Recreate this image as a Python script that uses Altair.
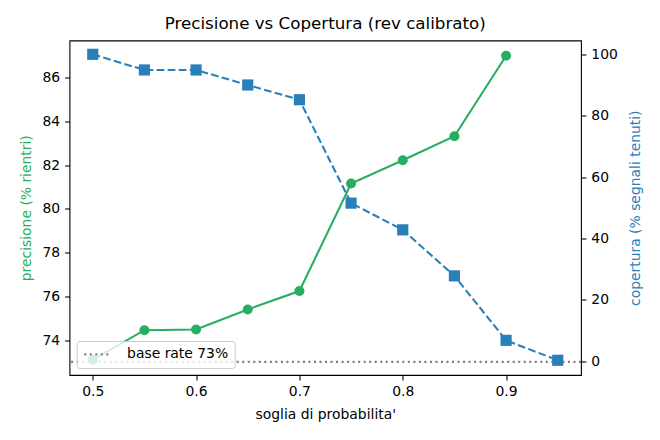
import altair as alt
import pandas as pd

# ---- data ----
soglie_prec = [0.5, 0.55, 0.6, 0.65, 0.7, 0.75, 0.8, 0.85, 0.9]
precisione = [73.1, 74.45, 74.48, 75.4, 76.24, 81.16, 82.22, 83.32, 87.0]
soglie_cop = [0.5, 0.55, 0.6, 0.65, 0.7, 0.75, 0.8, 0.85, 0.9, 0.95]
copertura = [100.0, 94.9, 94.9, 90.0, 85.2, 51.5, 42.8, 27.8, 6.8, 0.3]
base_rate = [73.0]
base_label = ["base rate 73%"]
x_ticks = [0.5, 0.6, 0.7, 0.8, 0.9]
prec_ticks = [74, 76, 78, 80, 82, 84, 86]
cop_ticks = [0, 20, 40, 60, 80, 100]

GREEN = "#27ae60"
BLUE = "#2980b9"
FONT = "DejaVu Sans"

df_p = pd.DataFrame({"soglia": soglie_prec, "val": precisione})
df_c = pd.DataFrame({"soglia": soglie_cop, "cop": copertura})
df_b = pd.DataFrame({"val": base_rate, "label": base_label})

x_enc = alt.X(
    "soglia:Q",
    scale=alt.Scale(domain=[0.4775, 0.9725], nice=False, zero=False),
    axis=alt.Axis(values=x_ticks, format=".1f", title="soglia di probabilita'",
                  titlePadding=8.5, labelFlush=False),
)

y_left = alt.Y(
    "val:Q",
    scale=alt.Scale(domain=[72.4, 87.7], nice=False, zero=False),
    axis=alt.Axis(values=prec_ticks, format="d", title="precisione (% rientri)",
                  titleColor=GREEN, orient="left", titlePadding=9, labelFlush=False),
)

y_right = alt.Y(
    "cop:Q",
    scale=alt.Scale(domain=[-4.5, 104.5], nice=False, zero=False),
    axis=alt.Axis(values=cop_ticks, format="d", title="copertura (% segnali tenuti)",
                  titleColor=BLUE, orient="right", titleAngle=270, titleBaseline="top",
                  titlePadding=11, labelFlush=False),
)

green_line = alt.Chart(df_p).mark_line(color=GREEN, strokeWidth=2.08).encode(x=x_enc, y=y_left)
green_pts = alt.Chart(df_p).mark_point(
    shape="circle", filled=True, size=100, color=GREEN, opacity=1
).encode(x=x_enc, y=y_left)

base = alt.Chart(df_b).mark_rule(strokeDash=[2.08, 3.44], strokeWidth=2.08).encode(
    y=y_left,
    color=alt.Color(
        "label:N",
        scale=alt.Scale(range=["#808080"]),
        legend=alt.Legend(
            title=None, orient="none", legendX=7.2, legendY=300.5,
            symbolType="stroke", symbolSize=713, symbolStrokeWidth=2.08,
            symbolDash=[2.08, 3.44], clipHeight=14,
            labelFontSize=13.9, labelFont=FONT, labelColor="black", labelOffset=15,
            padding=6.4, fillColor="rgba(255,255,255,0.8)", strokeColor="#cccccc",
            cornerRadius=3,
        ),
    ),
)

blue_line = alt.Chart(df_c).mark_line(color=BLUE, strokeWidth=2.08, strokeDash=[7.7, 3.33]).encode(
    x=x_enc, y=y_right
)
blue_pts = alt.Chart(df_c).mark_point(
    shape="square", filled=True, size=125, color=BLUE, opacity=1
).encode(x=x_enc, y=y_right)

left = alt.layer(green_line, green_pts, base)
right = alt.layer(blue_line, blue_pts)

chart = (
    alt.layer(left, right)
    .resolve_scale(y="independent")
    .properties(
        width=511.5,
        height=334.5,
        padding={"left": 61.5, "top": 32.5, "right": 70, "bottom": 50},
        autosize=alt.AutoSizeParams(type="none"),
        title=alt.TitleParams(
            text="Precisione vs Copertura (rev calibrato)", fontSize=16.7,
            fontWeight="normal", font=FONT, color="black", anchor="middle",
            baseline="alphabetic", offset=-5.5, frame="group",
        ),
    )
    .configure(font=FONT)
    .configure_view(stroke="black", strokeWidth=1.1)
    .configure_axis(
        domain=False, grid=False, tickColor="black", tickWidth=1.1, tickSize=4.9,
        labelPadding=4.9, labelFontSize=13.9, labelFont=FONT, labelColor="black",
        titleFontSize=13.9, titleFont=FONT, titleFontWeight="normal", titleColor="black",
    )
)

chart.save("out.html", embed_options={"renderer": "svg", "actions": False})
